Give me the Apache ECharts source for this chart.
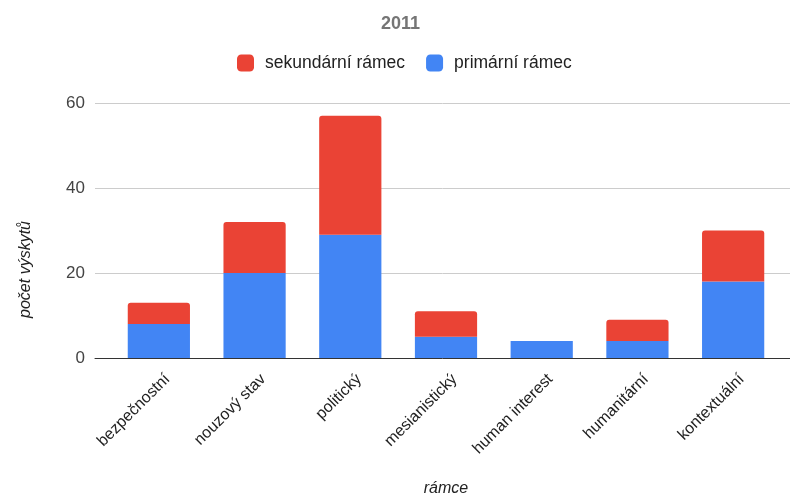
<!DOCTYPE html>
<html>
<head>
<meta charset="utf-8">
<script src="https://cdn.jsdelivr.net/npm/echarts@6/dist/echarts.min.js"></script>
<style>
  html, body { margin: 0; padding: 0; background: #fff; }
  #chart { width: 790px; height: 498px; }
</style>
</head>
<body>
<div id="chart"></div>
<script>
// Frame categories and counts per frame type
const categories = ['bezpečnostní', 'nouzový stav', 'politický', 'mesianistický', 'human interest', 'humanitární', 'kontextuální'];
const primary = [8, 20, 29, 5, 4, 4, 18];
const secondary = [5, 12, 28, 6, 0, 5, 12];
const yTicks = [0, 20, 40, 60];

const FONT = 'Arial, "Liberation Sans", sans-serif';
const chart = echarts.init(document.getElementById('chart'));

const gridBase = { top: 103, bottom: 140, outerBoundsMode: 'none', containLabel: false };

chart.setOption({
  animation: false,
  backgroundColor: '#ffffff',
  title: {
    text: '2011',
    left: 381,
    top: 15,
    padding: 0,
    textStyle: { fontFamily: FONT, fontSize: 18, fontWeight: 'bold', color: '#757575' }
  },
  legend: {
    data: ['sekundární rámec', 'primární rámec'],
    top: 54,
    left: 237,
    padding: 0,
    itemWidth: 17,
    itemHeight: 17,
    itemGap: 21,
    icon: 'roundRect',
    textStyle: { fontFamily: FONT, fontSize: 17.5, color: '#222', padding: [0, 0, 0, 6] }
  },
  graphic: [{
    type: 'text',
    left: 18,
    top: 221,
    rotation: Math.PI / 2,
    style: {
      text: 'počet výskytů',
      font: 'italic 16px ' + FONT,
      fill: '#222'
    }
  }],
  grid: [
    // full-width frame carrying the gridlines and baseline
    Object.assign({ left: 95, right: 0 }, gridBase),
    // plotting area for the bars
    Object.assign({ left: 111, width: 670 }, gridBase),
    // slanted category labels, nudged slightly to the right of each bar
    Object.assign({ left: 114, width: 670 }, gridBase)
  ],
  xAxis: [
    {
      gridIndex: 0,
      type: 'category',
      data: [''],
      axisLine: { show: true, lineStyle: { color: '#333', width: 1 } },
      axisTick: { show: false },
      axisLabel: { show: false },
      z: 5
    },
    {
      gridIndex: 1,
      type: 'category',
      data: categories,
      axisLine: { show: false },
      axisTick: { show: false },
      axisLabel: { show: false },
      name: 'rámce',
      nameLocation: 'middle',
      nameGap: 123,
      nameTextStyle: { fontFamily: FONT, fontSize: 16, fontStyle: 'italic', color: '#222' }
    },
    {
      gridIndex: 2,
      type: 'category',
      data: categories,
      axisLine: { show: false },
      axisTick: { show: false },
      axisLabel: {
        rotate: 45,
        margin: 13,
        verticalAlign: 'top',
        fontFamily: FONT,
        fontSize: 16,
        color: '#222'
      }
    }
  ],
  yAxis: [
    {
      gridIndex: 0,
      type: 'value',
      min: yTicks[0],
      max: yTicks[yTicks.length - 1],
      interval: 20,
      axisLine: { show: false },
      axisTick: { show: false },
      axisLabel: { fontFamily: FONT, fontSize: 17, color: '#444', margin: 10 },
      splitLine: { lineStyle: { color: '#cccccc', width: 1 } }
    },
    {
      gridIndex: 1,
      type: 'value',
      min: yTicks[0],
      max: yTicks[yTicks.length - 1],
      interval: 20,
      axisLine: { show: false },
      axisTick: { show: false },
      axisLabel: { show: false },
      splitLine: { show: false }
    },
    {
      gridIndex: 2,
      type: 'value',
      min: yTicks[0],
      max: yTicks[yTicks.length - 1],
      interval: 20,
      show: false
    }
  ],
  series: [
    {
      name: 'primární rámec',
      type: 'bar',
      stack: 'total',
      xAxisIndex: 1,
      yAxisIndex: 1,
      data: primary,
      barCategoryGap: '35%',
      itemStyle: { color: '#4285F4' }
    },
    {
      name: 'sekundární rámec',
      type: 'bar',
      stack: 'total',
      xAxisIndex: 1,
      yAxisIndex: 1,
      data: secondary,
      barCategoryGap: '35%',
      itemStyle: { color: '#EA4335', borderRadius: [3, 3, 0, 0] }
    }
  ]
});
</script>
</body>
</html>
